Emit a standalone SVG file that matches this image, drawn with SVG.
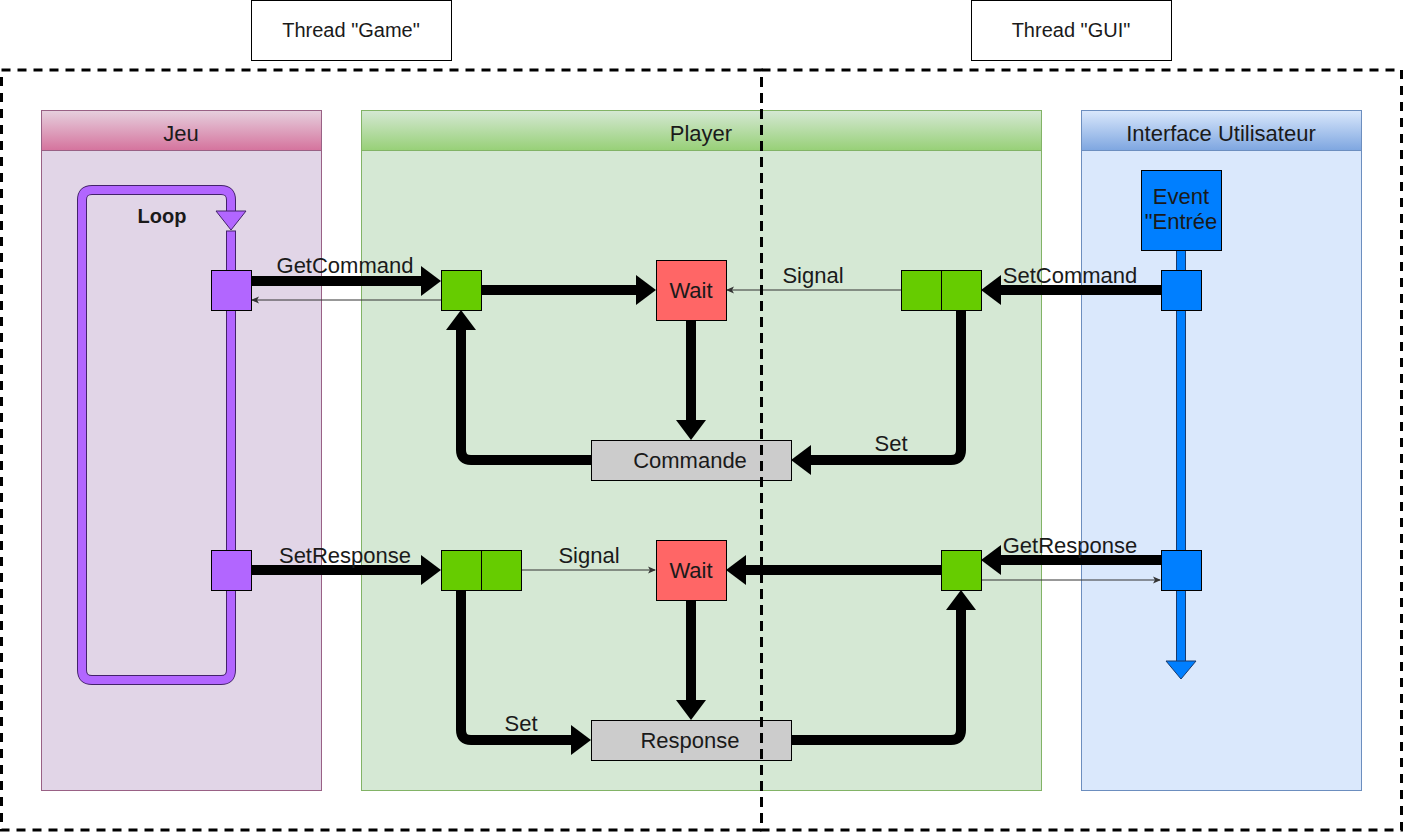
<svg xmlns="http://www.w3.org/2000/svg" width="1404" height="833" viewBox="0 0 1404 833">
<defs>
<linearGradient id="gPink" x1="0" y1="0" x2="0" y2="1"><stop offset="0" stop-color="#e6d0de"/><stop offset="1" stop-color="#d5739d"/></linearGradient>
<linearGradient id="gGreen" x1="0" y1="0" x2="0" y2="1"><stop offset="0" stop-color="#d5e8d4"/><stop offset="1" stop-color="#97d077"/></linearGradient>
<linearGradient id="gBlue" x1="0" y1="0" x2="0" y2="1"><stop offset="0" stop-color="#dae8fc"/><stop offset="1" stop-color="#7ea6e0"/></linearGradient>
<marker id="big" markerUnits="userSpaceOnUse" markerWidth="20" markerHeight="30" viewBox="0 0 20 30" refX="10" refY="15" orient="auto"><path d="M0,0 L20,15 L0,30 z" fill="#000"/></marker>
<marker id="small" markerUnits="userSpaceOnUse" markerWidth="8" markerHeight="8" viewBox="0 0 8 8" refX="7" refY="4" orient="auto"><path d="M0,0.5 L8,4 L0,7.5 L2,4 z" fill="#333"/></marker>
</defs>
<style>
text{font-family:"Liberation Sans",Arial,sans-serif;font-size:22px;fill:#1a1a1a;text-anchor:middle}
.thread{font-size:20px}
.bold{font-weight:bold;font-size:20px}
.sq{stroke:#000;stroke-width:1}
.green{fill:#66cc00}
.purple{fill:#b266ff}
.blue{fill:#007fff}
.wait{fill:#ff6666;stroke:#000;stroke-width:1}
.grey{fill:#cccccc;stroke:#000;stroke-width:1}
.thick{fill:none;stroke:#000;stroke-width:10;marker-end:url(#big)}
.thin{fill:none;stroke:#333;stroke-width:1;marker-end:url(#small)}
.dash{fill:none;stroke:#000;stroke-width:3;stroke-dasharray:9 7}
</style>
<rect width="1404" height="833" fill="#fff"/>

<g id="thread-game"><rect x="251.5" y="0.5" width="200" height="60" fill="#fff" stroke="#000"/><text class="thread" x="351" y="37">Thread "Game"</text></g>
<g id="thread-gui"><rect x="971.5" y="0.5" width="200" height="60" fill="#fff" stroke="#000"/><text class="thread" x="1071" y="37">Thread "GUI"</text></g>

<g id="lane-jeu">
<rect x="41.5" y="110.5" width="280" height="680" fill="#e1d5e7" stroke="#996185"/>
<rect x="41.5" y="110.5" width="280" height="40" fill="url(#gPink)" stroke="#996185"/>
<text x="181" y="141">Jeu</text>
</g>
<g id="lane-player">
<rect x="361.5" y="110.5" width="680" height="680" fill="#d5e8d4" stroke="#82b366"/>
<rect x="361.5" y="110.5" width="680" height="40" fill="url(#gGreen)" stroke="#82b366"/>
<text x="701" y="141">Player</text>
</g>
<g id="lane-ui">
<rect x="1081.5" y="110.5" width="280" height="680" fill="#dae8fc" stroke="#6c8ebf"/>
<rect x="1081.5" y="110.5" width="280" height="40" fill="url(#gBlue)" stroke="#6c8ebf"/>
<text x="1221" y="141">Interface Utilisateur</text>
</g>

<g id="loop">
<path d="M231,590 V670 Q231,680 221,680 H92 Q82,680 82,670 V200 Q82,190 92,190 H221 Q231,190 231,200 V212" fill="none" stroke="#43226a" stroke-width="10"/>
<path d="M231,590 V670 Q231,680 221,680 H92 Q82,680 82,670 V200 Q82,190 92,190 H221 Q231,190 231,200 V212" fill="none" stroke="#b266ff" stroke-width="8"/>
<polygon points="216,211 246,211 231,230" fill="#b266ff" stroke="#43226a" stroke-width="1"/>
<path d="M231,230.5 V555" stroke="#43226a" stroke-width="10"/>
<path d="M231,231.5 V555" stroke="#b266ff" stroke-width="8"/>
<text class="bold" x="162" y="223">Loop</text>
</g>

<g id="ui-lifeline">
<path d="M1181,250 V662" stroke="#1a3a6b" stroke-width="10"/>
<path d="M1181,250 V662" stroke="#007fff" stroke-width="8"/>
<polygon points="1166,661 1196,661 1181,679" fill="#007fff" stroke="#1a3a6b" stroke-width="1"/>
</g>

<g id="connectors">
<path class="thick" d="M251,281 H431"/>
<path class="thin" d="M441,300 H252"/>
<text x="345" y="273">GetCommand</text>
<path class="thick" d="M481,290 H646"/>
<path class="thin" d="M901,290 H727"/>
<text x="813" y="283">Signal</text>
<path class="thick" d="M1161,290 H991"/>
<text x="1070" y="283">SetCommand</text>
<path class="thick" d="M691,320 V430"/>
<path class="thick" d="M591,460 H471 Q461,460 461,450 V320"/>
<path class="thick" d="M961,310 V450 Q961,460 951,460 H801"/>
<text x="891" y="451">Set</text>
<path class="thick" d="M251,570 H431"/>
<text x="345" y="563">SetResponse</text>
<path class="thin" d="M521,570 H655"/>
<text x="589" y="563">Signal</text>
<path class="thick" d="M941,570 H736"/>
<path class="thick" d="M1161,560 H991"/>
<path class="thin" d="M981,580 H1160"/>
<text x="1070" y="553">GetResponse</text>
<path class="thick" d="M691,600 V710"/>
<path class="thick" d="M461,590 V730 Q461,740 471,740 H581"/>
<text x="521" y="731">Set</text>
<path class="thick" d="M791,740 H951 Q961,740 961,730 V600"/>
</g>

<g id="jeu-get"><rect class="sq purple" x="211.5" y="270.5" width="40" height="40"/></g>
<g id="jeu-set"><rect class="sq purple" x="211.5" y="550.5" width="40" height="40"/></g>
<g id="player-get"><rect class="sq green" x="441.5" y="270.5" width="40" height="40"/></g>
<g id="player-setcmd"><rect class="sq green" x="901.5" y="270.5" width="40" height="40"/><rect class="sq green" x="941.5" y="270.5" width="40" height="40"/></g>
<g id="player-setresp"><rect class="sq green" x="441.5" y="550.5" width="40" height="40"/><rect class="sq green" x="481.5" y="550.5" width="40" height="40"/></g>
<g id="player-getresp"><rect class="sq green" x="941.5" y="550.5" width="40" height="40"/></g>
<g id="wait-1"><rect class="wait" x="656.5" y="260.5" width="70" height="60"/><text x="691" y="298">Wait</text></g>
<g id="wait-2"><rect class="wait" x="656.5" y="540.5" width="70" height="60"/><text x="691" y="578">Wait</text></g>
<g id="commande"><rect class="grey" x="591.5" y="440.5" width="200" height="40"/><text x="690" y="468">Commande</text></g>
<g id="response"><rect class="grey" x="591.5" y="720.5" width="200" height="40"/><text x="690" y="748">Response</text></g>
<g id="event"><rect class="sq blue" x="1141.5" y="170.5" width="80" height="80"/><text x="1181" y="204">Event</text><text x="1181" y="229">"Entrée</text></g>
<g id="ui-setcmd"><rect class="sq blue" x="1161.5" y="270.5" width="40" height="40"/></g>
<g id="ui-getresp"><rect class="sq blue" x="1161.5" y="550.5" width="40" height="40"/></g>

<g id="threads-boundary">
<rect class="dash" x="1.5" y="70" width="760" height="760"/>
<rect class="dash" x="761.5" y="70" width="640" height="760"/>
</g>
</svg>
